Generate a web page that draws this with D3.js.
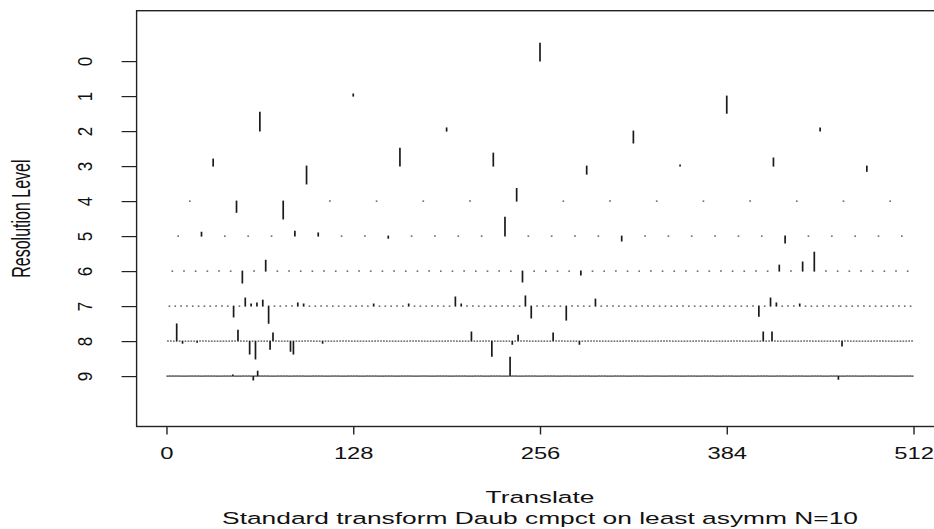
<!DOCTYPE html>
<html><head><meta charset="utf-8">
<script src="https://cdn.jsdelivr.net/npm/d3@7"></script>
<style>
body{margin:0;background:#fff;}
svg{display:block;background:#fff;}
text{font-family:"Liberation Sans", Arial, sans-serif; fill:#111;}
</style>
</head><body><svg id="chart" width="934" height="529"></svg>
<script>
// ---- data ----
const levelLabels = [0,1,2,3,4,5,6,7,8,9];
const levelSizes  = [1,2,4,8,16,32,64,128,256,512];
const xTickValues = [0,128,256,384,512];
const xTitle = "Translate";
const yTitle = "Resolution Level";
const subTitle = "Standard transform Daub cmpct on least asymm N=10";
// non-zero coefficients per level as [index, value]; every other coefficient is zero
const coefL0 = [[0,0.51]];
const coefL1 = [[0,0.06],[1,-0.49]];
const coefL2 = [[0,0.54],[1,0.09],[2,-0.34],[3,0.09]];
const coefL3 = [[0,0.20],[1,-0.51],[2,0.51],[3,0.37],[4,-0.23],[5,0.03],[6,0.23],[7,-0.15]];
const coefL4 = [[1,-0.32],[2,-0.51],[7,0.36]];
const coefL5 = [[1,0.11],[5,0.14],[6,0.09],[9,-0.06],[14,0.54],[19,-0.14],[26,-0.20]];
const coefL6 = [[6,-0.34],[8,0.31],[30,-0.31],[35,-0.11],[52,0.17],[54,0.26],[55,0.54]];
const coefL7 = [[11,-0.31],[13,0.23],[14,0.06],[15,0.09],[16,0.17],[17,-0.49],[22,0.09],[23,0.06],[35,0.06],[41,0.06],[49,0.26],[50,0.06],[61,0.29],[62,-0.34],[68,-0.40],[73,0.20],[101,-0.29],[103,0.23],[104,0.09],[108,0.06]];
const coefL8 = [[3,0.49],[5,-0.06],[10,-0.03],[24,0.31],[28,-0.37],[30,-0.51],[35,-0.23],[36,0.23],[42,-0.29],[43,-0.37],[53,-0.06],[104,0.26],[111,-0.43],[118,-0.09],[120,0.17],[132,0.23],[141,-0.09],[204,0.26],[207,0.26],[231,-0.14]];
const coefL9 = [[45,0.03],[59,-0.11],[62,0.14],[235,0.54],[460,-0.09]];
const coefByLevel = [coefL0,coefL1,coefL2,coefL3,coefL4,coefL5,coefL6,coefL7,coefL8,coefL9];

// ---- layout ----
const svg = d3.select("#chart");
const nTrans = 512, nLev = levelLabels.length;
const plot = {left:136.6, right:943.4, top:10.7, bottom:426.5};
const x = d3.scaleLinear().domain([-0.04*nTrans, 1.04*nTrans]).range([plot.left, plot.right]);
const y = d3.scaleLinear().domain([-0.44, nLev + 1.44]).range([plot.bottom, plot.top]);
const ink = "#1a1a1a";

// coefficient segments
const segs = [];
levelLabels.forEach((L, li) => {
  const n = levelSizes[li];
  const m = new Map(coefByLevel[li].map(d => [d[0], d[1]]));
  for (let k = 0; k < n; k++) {
    segs.push({level: L, pos: (k + 0.5) * nTrans / n, val: m.has(k) ? m.get(k) : 0});
  }
});
svg.append("g").selectAll("line").data(segs).join("line")
  .attr("x1", d => x(d.pos)).attr("x2", d => x(d.pos))
  .attr("y1", d => Math.min(y(nLev - d.level), y(nLev - d.level + d.val)) - 0.5)
  .attr("y2", d => Math.max(y(nLev - d.level), y(nLev - d.level + d.val)) + 0.5)
  .attr("stroke", ink).attr("stroke-width", 1.7).attr("stroke-linecap", "butt");

// box
svg.append("rect").attr("x", plot.left).attr("y", plot.top)
  .attr("width", plot.right - plot.left).attr("height", plot.bottom - plot.top)
  .attr("fill", "none").attr("stroke", "#222").attr("stroke-width", 1.4);

// x axis
const gx = svg.append("g").attr("transform", `translate(0,${plot.bottom})`)
  .call(d3.axisBottom(x).tickValues(xTickValues).tickSize(8).tickPadding(12).tickFormat(d3.format("d")));
gx.select(".domain").remove();
gx.selectAll(".tick line").attr("stroke", "#222").attr("stroke-width", 1.4);
gx.selectAll(".tick text").attr("font-size", 17).attr("fill", "#111")
  .attr("font-family", "Liberation Sans, Arial, sans-serif")
  .attr("transform", "scale(1.4,1)");

// y axis
const gy = svg.append("g").attr("transform", `translate(${plot.left},0)`)
  .call(d3.axisLeft(y).tickValues(levelLabels.map(L => nLev - L)).tickSize(15)
        .tickFormat(v => String(nLev - v)));
gy.select(".domain").remove();
gy.selectAll(".tick line").attr("stroke", "#222").attr("stroke-width", 1.2);
gy.selectAll(".tick text").attr("font-size", 17).attr("fill", "#111")
  .attr("font-family", "Liberation Sans, Arial, sans-serif")
  .attr("x", null).attr("dy", null).attr("text-anchor", "middle")
  .attr("transform", "translate(-52,0) scale(1.2,1) rotate(-90) translate(0,6)");

// titles
svg.append("text").attr("text-anchor", "middle").attr("font-size", 17)
  .attr("transform", `translate(${x(256)},503) scale(1.55,1)`).text(xTitle);
svg.append("text").attr("text-anchor", "middle").attr("font-size", 17)
  .attr("transform", `translate(${x(256)},524) scale(1.55,1)`).text(subTitle);
svg.append("text").attr("text-anchor", "middle").attr("font-size", 16)
  .attr("transform", `translate(30,${y(nLev - 4.5)}) scale(1.65,1) rotate(-90)`).text(yTitle);
</script>
</body></html>
